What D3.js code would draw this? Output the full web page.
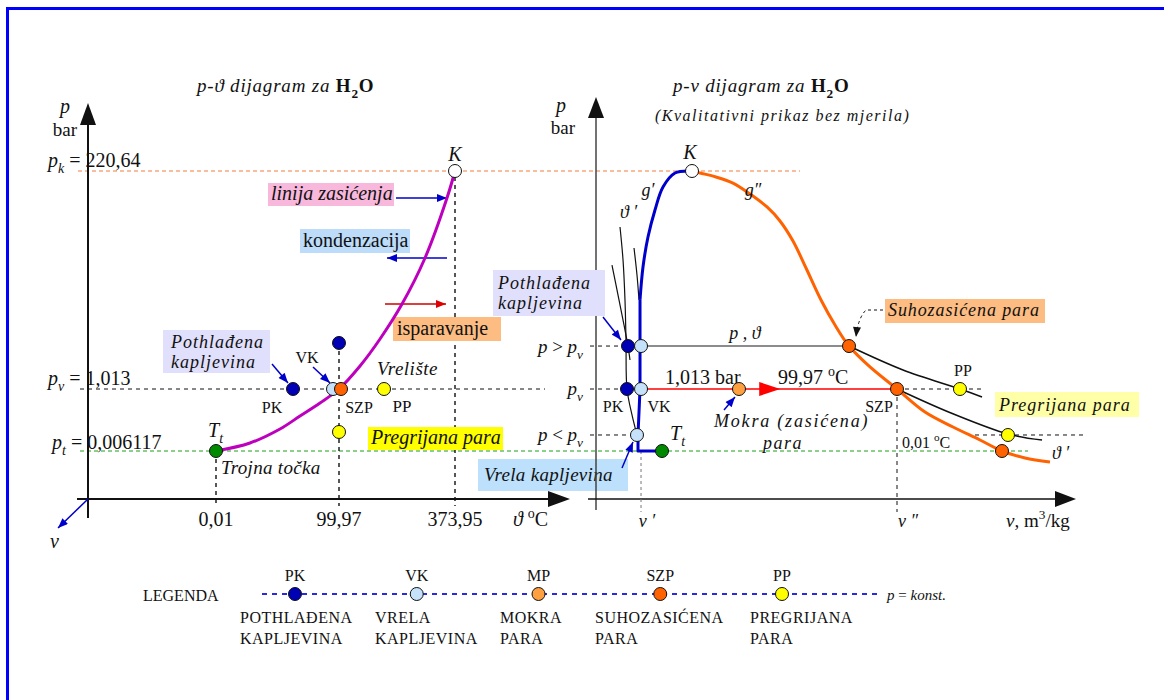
<!DOCTYPE html>
<html>
<head>
<meta charset="utf-8">
<script src="https://cdn.jsdelivr.net/npm/d3@7"></script>
<style>
  body { margin: 0; background: #fff; }
  svg text { font-family: "Liberation Serif", "Times New Roman", serif; fill: #111; }
</style>
</head>
<body>
<svg id="chart" width="1164" height="700"></svg>
<script>
'use strict';

// pressure levels (bar) shared by both diagrams
const pLevels = [0, 0.006117, 1.013, 220.64];
const pHigh = 44.3;   // p > pv
const pLow = 0.266;   // p < pv

// p-theta diagram
const thetaTicks = [0.01, 99.97, 373.95];
const thetaTickLabels = ['0,01', '99,97', '373,95'];
const satTheta = [0.01, 27.64, 52.02, 68.28, 84.53, 99.97, 149.6, 196.8, 248.8, 303.1, 355.0, 373.95];
const satP = [0.006117, 0.136, 0.363, 0.5745, 0.786, 1.013, 24.2, 51.4, 86.6, 133.0, 193.4, 220.64];
const ptTheta = [99.97, 62.6, 95.1, 104.7, 206.3, 99.97, 0.01, 373.95];
const ptP = [47.4, 1.013, 1.013, 1.013, 1.013, 0.315, 0.006117, 220.64];
const ptKind = ['PK', 'PK', 'VK', 'SZP', 'PP', 'PP', 'Tt', 'K'];

// p-v diagram (qualitative, v in schematic units 0..100)
const liqV = [20.0, 16.46, 13.96, 12.29, 10.83, 9.79, 9.17];
const liqP = [220.64, 218.6, 204.5, 181.4, 154.1, 123.9, 90.7];
const liqBaseV = [9.17, 9.17, 9.17, 8.75, 8.75, 13.75];
const liqBaseP = [90.7, 44.3, 1.013, 0.266, 0.006117, 0.006117];
const vapV = [20, 21.67, 25, 28.54, 32.08, 35.63, 38.33, 41.04, 43.75, 46.88, 49.79, 52.71, 57.08, 62.71, 68.54, 74.38, 80, 84.58, 89.38, 94.58];
const vapP = [220.64, 218.6, 214.6, 208.5, 197.5, 184.4, 170.3, 150.1, 122.9, 90.7, 65.5, 44.3, 23.2, 1.013, 0.639, 0.396, 0.185, 0.006117, 0.00523, 0.00472];
const isoLiqV = [[3.33, 4.79, 5.83, 6.67, 7.08], [5.0, 5.63, 6.04, 6.25, 6.46, 7.5, 8.54], [7.92, 8.54, 8.96]];
const isoLiqP = [[125.9, 90.7, 65.5, 44.3, 30.2], [164.2, 131.0, 90.7, 50.4, 1.013, 0.591, 0.266], [143.1, 115.9, 90.7]];
const isoVapV = [[52.71, 63.96, 75.83, 80.42], [62.71, 73.96, 85.83, 92.92]];
const isoVapP = [[44.3, 20.16, 1.013, 0.883], [1.013, 0.623, 0.282, 0.185]];
const pvV = [6.67, 9.38, 6.46, 9.38, 8.54, 13.75, 29.79, 52.71, 62.71, 75.83, 85.83, 84.58, 20];
const pvP = [44.3, 44.3, 1.013, 1.013, 0.266, 0.006117, 1.013, 44.3, 1.013, 1.013, 0.266, 0.006117, 220.64];
const pvKind = ['PK', 'VK', 'PK', 'VK', 'VK', 'Tt', 'MP', 'SZP', 'SZP', 'PP', 'PP', 'SZP', 'K'];

// legend
const legendCodes = ['PK', 'VK', 'MP', 'SZP', 'PP'];
const legendLine1 = ['POTHLAĐENA', 'VRELA', 'MOKRA', 'SUHOZASIĆENA', 'PREGRIJANA'];
const legendLine2 = ['KAPLJEVINA', 'KAPLJEVINA', 'PARA', 'PARA', 'PARA'];

const kindColor = {
  PK: '#0000b4', VK: '#c6e2fa', MP: '#ffa040', SZP: '#ff6200',
  PP: '#ffff00', Tt: '#008a00', K: '#ffffff',
};

const svg = d3.select('#chart');

const yP = d3.scaleLinear().domain(pLevels).range([499, 451, 389, 171]);
const xT = d3.scaleLinear().domain([0, 0.01, 99.97, 373.95]).range([88, 216, 339, 455]);
const xV = d3.scaleLinear().domain([0, 100]).range([596, 1076]);
const xLeg = d3.scalePoint().domain(legendCodes).range([295, 782]);

// markers
const defs = svg.append('defs');
[['blue', '#0000cc'], ['red', '#dd0000'], ['black', '#111']].forEach(([id, c]) => {
  defs.append('marker')
    .attr('id', 'arr-' + id)
    .attr('viewBox', '0 0 10 8')
    .attr('refX', 10).attr('refY', 4)
    .attr('markerWidth', 11).attr('markerHeight', 8)
    .attr('markerUnits', 'userSpaceOnUse')
    .attr('orient', 'auto')
    .append('path').attr('d', 'M0,0L10,4L0,8Z').attr('fill', c);
});

function label(x, y, parts, opt) {
  opt = opt || {};
  const size = opt.size || 20;
  const t = svg.append('text')
    .attr('x', x).attr('y', y)
    .attr('font-size', size)
    .attr('text-anchor', opt.anchor || 'start');
  if (opt.italic) t.attr('font-style', 'italic');
  if (opt.spacing) t.attr('letter-spacing', opt.spacing);
  if (parts.length === 1 && typeof parts[0] === 'string') {
    t.text(parts[0]);
    return t;
  }
  let shift = 0;
  parts.forEach(p => {
    if (typeof p === 'string') p = { s: p };
    const target = p.sub ? size * 0.3 : p.sup ? -size * 0.42 : 0;
    const span = t.append('tspan').text(p.s);
    if (target !== shift) span.attr('dy', target - shift);
    shift = target;
    if (p.sub || p.sup) span.attr('font-size', size * 0.7);
    if (p.i) span.attr('font-style', 'italic');
    if (p.b) span.attr('font-weight', 'bold');
  });
  return t;
}

function box(x, y, w, h, fill) {
  svg.append('rect').attr('x', x).attr('y', y).attr('width', w).attr('height', h).attr('fill', fill);
}

function seg(x1, y1, x2, y2, o) {
  o = o || {};
  const l = svg.append('line')
    .attr('x1', x1).attr('y1', y1).attr('x2', x2).attr('y2', y2)
    .attr('stroke', o.color || '#111')
    .attr('stroke-width', o.width || 1);
  if (o.dash) l.attr('stroke-dasharray', o.dash);
  if (o.arrow) l.attr('marker-end', `url(#arr-${o.arrow})`);
  return l;
}

function curve(xs, ys, xScale, color, width, type) {
  svg.append('path')
    .datum(d3.zip(xs, ys))
    .attr('d', d3.line().x(d => xScale(d[0])).y(d => yP(d[1])).curve(type || d3.curveCatmullRom))
    .attr('fill', 'none')
    .attr('stroke', color)
    .attr('stroke-width', width)
    .attr('stroke-linejoin', 'round');
}

function dots(xs, ys, kinds, xScale) {
  svg.append('g').selectAll('circle')
    .data(d3.zip(xs, ys, kinds))
    .join('circle')
    .attr('cx', d => xScale(d[0]))
    .attr('cy', d => yP(d[1]))
    .attr('r', 6.5)
    .attr('fill', d => kindColor[d[2]])
    .attr('stroke', '#111')
    .attr('stroke-width', 1);
}

// frame
svg.append('path').attr('d', 'M7.5,700V8.5H1164').attr('fill', 'none').attr('stroke', '#0000ff').attr('stroke-width', 3);

// ---------- reference lines ----------
seg(78, yP(220.64), xV(42.5), yP(220.64), { color: '#f07c3a', dash: '4,3' });
seg(80, yP(0.006117), xV(90), yP(0.006117), { color: '#18a018', dash: '4,3' });
seg(80, yP(1.013), 545, yP(1.013), { dash: '4,4' });
seg(xT(99.97), yP(47.4), xT(99.97), 506, { dash: '4,4', width: 1.4 });
seg(xT(0.01), yP(0.006117), xT(0.01), 506, { dash: '4,4', width: 1.4 });
seg(xT(373.95), yP(220.64) + 6, xT(373.95), 506, { dash: '4,4', width: 1.4 });

// ---------- left axes ----------
seg(88, 518, 88, 120, { width: 2 });
svg.append('path').attr('d', 'M88,103L80,125L96,125Z').attr('fill', '#111');
seg(77, 499, 550, 499, { width: 2 });
svg.append('path').attr('d', 'M570,499L548,491L548,507Z').attr('fill', '#111');
seg(88, 499, 58, 528, { color: '#0000cc', width: 1.5, arrow: 'blue' });
label(50, 548, ['v'], { italic: true, size: 20 });
label(65, 113, ['p'], { italic: true, size: 20, anchor: 'middle' });
label(65, 136, ['bar'], { size: 19, anchor: 'middle' });

label(48, 167, [{ s: 'p', i: true }, { s: 'k', i: true, sub: true }, ' = 220,64'], { size: 20 });
label(48, 385, [{ s: 'p', i: true }, { s: 'v', i: true, sub: true }, ' = 1,013'], { size: 20 });
label(52, 449, [{ s: 'p', i: true }, { s: 't', i: true, sub: true }, ' = 0,006117'], { size: 20 });

svg.append('g').selectAll('text')
  .data(thetaTicks)
  .join('text')
  .attr('x', d => xT(d))
  .attr('y', 526)
  .attr('font-size', 20)
  .attr('text-anchor', 'middle')
  .text((d, i) => thetaTickLabels[i]);
label(513, 526, [{ s: 'ϑ', i: true }, ' ', { s: 'o', sup: true }, 'C'], { size: 20 });

label(197, 92, [{ s: 'p-ϑ dijagram za ', i: true }, { s: 'H', b: true }, { s: '2', b: true, sub: true }, { s: 'O', b: true }], { size: 19, spacing: 0.8 });

// annotation boxes, left
box(268, 183, 126, 23, '#f8b8dc');
label(271, 200, ['linija zasićenja'], { italic: true, size: 20 });
seg(396, 198, 447, 198, { color: '#0000cc', width: 1.5, arrow: 'blue' });
box(300, 229, 110, 24, '#bcdcfa');
label(303, 247, ['kondenzacija'], { size: 20 });
seg(447, 258, 387, 258, { color: '#0000cc', width: 1.5, arrow: 'blue' });
seg(385, 304, 446, 304, { color: '#cc0000', width: 1.5, arrow: 'red' });
box(393, 317, 108, 24, '#fcbc82');
label(397, 335, ['isparavanje'], { size: 20 });
box(163, 330, 107, 43, '#e0e0fc');
label(171, 348, ['Pothlađena'], { italic: true, size: 18, spacing: 1 });
label(171, 368, ['kapljevina'], { italic: true, size: 18, spacing: 1 });
seg(272, 364, 288, 383, { color: '#0000cc', width: 1.5, arrow: 'blue' });
label(307, 363, ['VK'], { size: 16, anchor: 'middle' });
seg(313, 367, 330, 383, { color: '#0000cc', width: 1.5, arrow: 'blue' });
label(272, 413, ['PK'], { size: 16, anchor: 'middle' });
label(359, 413, ['SZP'], { size: 16, anchor: 'middle' });
label(402, 412, ['PP'], { size: 17, anchor: 'middle' });
label(377, 375, ['Vrelište'], { italic: true, size: 19, spacing: 0.5 });
label(208, 437, [{ s: 'T', i: true }, { s: 't', i: true, sub: true }], { size: 20 });
label(221, 474, ['Trojna točka'], { italic: true, size: 19, spacing: 0.3 });
box(368, 427, 135, 23, '#ffff00');
label(371, 444, ['Pregrijana para'], { italic: true, size: 20 });
box(478, 459, 150, 32, '#bde0fc');
label(484, 481, ['Vrela kapljevina'], { italic: true, size: 19, spacing: 0.3 });

// saturation line and states
curve(satTheta, satP, xT, '#bd00bd', 3);
dots(ptTheta, ptP, ptKind, xT);
label(xT(373.95), 161, ['K'], { italic: true, size: 20, anchor: 'middle' });

// ---------- right axes ----------
seg(596, 510, 596, 116, { color: '#444', width: 1.5 });
svg.append('path').attr('d', 'M596,97L588,118L604,118Z').attr('fill', '#111');
seg(588, 499, 1056, 499, { width: 1.5 });
svg.append('path').attr('d', 'M1076,499L1055,491L1055,507Z').attr('fill', '#111');
label(561, 112, ['p'], { italic: true, size: 20, anchor: 'middle' });
label(563, 134, ['bar'], { size: 19, anchor: 'middle' });
label(673, 92, [{ s: 'p-v dijagram za ', i: true }, { s: 'H', b: true }, { s: '2', b: true, sub: true }, { s: 'O', b: true }], { size: 19, spacing: 0.8 });
label(655, 121, ['(Kvalitativni prikaz bez mjerila)'], { italic: true, size: 16, spacing: 1.5 });

// level guides on the p-v side
label(583, 353, [{ s: 'p', i: true }, ' > ', { s: 'p', i: true }, { s: 'v', i: true, sub: true }], { size: 19, anchor: 'end' });
label(583, 395, [{ s: 'p', i: true }, { s: 'v', i: true, sub: true }], { size: 19, anchor: 'end' });
label(583, 441, [{ s: 'p', i: true }, ' < ', { s: 'p', i: true }, { s: 'v', i: true, sub: true }], { size: 19, anchor: 'end' });
seg(590, yP(pHigh), xV(6.67), yP(pHigh), { dash: '4,4' });
seg(590, yP(1.013), xV(6.46), yP(1.013), { dash: '4,4' });
seg(590, yP(pLow), xV(8.54), yP(pLow), { dash: '4,4' });
seg(xV(9.38), yP(0.006117), xV(9.38), 512, { color: '#777', dash: '3,3' });
seg(xV(62.71), yP(1.013), xV(62.71), 512, { dash: '4,4' });
seg(xV(62.71), yP(1.013), xV(81.04), yP(1.013), { dash: '4,4' });
seg(xV(78.96), yP(pLow), xV(101.9), yP(pLow), { dash: '4,4' });

// process lines
seg(xV(9.38), yP(pHigh), xV(52.71), yP(pHigh), { color: '#666', width: 1.5 });
seg(xV(9.38), yP(1.013), xV(62.71), yP(1.013), { color: '#ff0000', width: 1.5 });
svg.append('path')
  .attr('d', `M${xV(38.4)},${yP(1.013)}L${xV(34)},${yP(1.013) - 7}L${xV(34)},${yP(1.013) + 7}Z`)
  .attr('fill', '#ff0000');

isoLiqV.forEach((v, i) => curve(v, isoLiqP[i], xV, '#111', 1.2));
isoVapV.forEach((v, i) => curve(v, isoVapP[i], xV, '#111', 1.5));
curve(liqV, liqP, xV, '#0000cc', 3);
curve(liqBaseV, liqBaseP, xV, '#0000cc', 3, d3.curveLinear);
curve(vapV, vapP, xV, '#ff6200', 3);

// annotations, right
box(493, 270, 112, 46, '#e0e0fc');
label(498, 289, ['Pothlađena'], { italic: true, size: 18, spacing: 1 });
label(498, 309, ['kapljevina'], { italic: true, size: 18, spacing: 1 });
seg(603, 317, 621, 340, { color: '#0000cc', width: 1.5, arrow: 'blue' });
seg(622, 468, 633, 442, { color: '#0000cc', width: 1.5, arrow: 'blue' });
label(620, 218, ['ϑ ′'], { italic: true, size: 18 });
label(648, 196, ['g′'], { italic: true, size: 18, anchor: 'middle' });
label(753, 196, ['g″'], { italic: true, size: 18, anchor: 'middle' });
label(xV(20) - 2, 159, ['K'], { italic: true, size: 20, anchor: 'middle' });
label(745, 339, ['p , ϑ'], { italic: true, size: 18, anchor: 'middle' });
label(665, 384, ['1,013 bar'], { size: 20 });
label(778, 384, ['99,97 ', { s: 'o', sup: true }, 'C'], { size: 20 });
label(613, 412, ['PK'], { size: 16, anchor: 'middle' });
label(659, 412, ['VK'], { size: 16, anchor: 'middle' });
label(670, 440, [{ s: 'T', i: true }, { s: 't', i: true, sub: true }], { size: 20 });
label(714, 427, ['Mokra (zasićena)'], { italic: true, size: 18, spacing: 1.8 });
label(763, 449, ['para'], { italic: true, size: 18, spacing: 1.5 });
seg(724, 410, 735, 397, { color: '#0000cc', width: 1.5, arrow: 'blue' });
box(885, 299, 160, 24, '#fcbc82');
label(888, 316, ['Suhozasićena para'], { italic: true, size: 18, spacing: 0.9 });
svg.append('path')
  .attr('d', 'M883,310L866,310Q858,318 856,337')
  .attr('fill', 'none').attr('stroke', '#111').attr('stroke-dasharray', '3,3')
  .attr('marker-end', 'url(#arr-black)');
label(963, 376, ['PP'], { size: 16, anchor: 'middle' });
label(879, 412, ['SZP'], { size: 16, anchor: 'middle' });
box(995, 392, 144, 25, '#ffffa8');
label(999, 411, ['Pregrijana para'], { italic: true, size: 18, spacing: 1 });
label(902, 448, ['0,01 ', { s: 'o', sup: true }, 'C'], { size: 16 });
label(1052, 459, ['ϑ ′'], { italic: true, size: 18 });
label(647, 527, ['v ′'], { italic: true, size: 18, anchor: 'middle' });
label(908, 527, ['v ″'], { italic: true, size: 18, anchor: 'middle' });
label(1006, 527, [{ s: 'v', i: true }, ',  m', { s: '3', sup: true }, '/kg'], { size: 19 });

dots(pvV, pvP, pvKind, xV);

// ---------- legend ----------
const legY = 594;
label(143, 601, ['LEGENDA'], { size: 16 });
seg(262, legY, 880, legY, { color: '#2a2ae0', width: 2, dash: '5,5' });
const leg = svg.append('g').selectAll('g').data(legendCodes).join('g');
leg.append('circle')
  .attr('cx', d => xLeg(d)).attr('cy', legY).attr('r', 6.5)
  .attr('fill', d => kindColor[d]).attr('stroke', '#111');
leg.append('text')
  .attr('x', d => xLeg(d)).attr('y', 581)
  .attr('font-size', 16).attr('text-anchor', 'middle')
  .text(d => d);
const legTextX = [240, 375, 500, 595, 750];
leg.append('text')
  .attr('x', (d, i) => legTextX[i]).attr('y', 623)
  .attr('font-size', 16).attr('letter-spacing', 0.5)
  .text((d, i) => legendLine1[i]);
leg.append('text')
  .attr('x', (d, i) => legTextX[i]).attr('y', 644)
  .attr('font-size', 16).attr('letter-spacing', 0.5)
  .text((d, i) => legendLine2[i]);
label(887, 600, [{ s: 'p', i: true }, ' = ', { s: 'konst.', i: true }], { size: 15 });
</script>
</body>
</html>
